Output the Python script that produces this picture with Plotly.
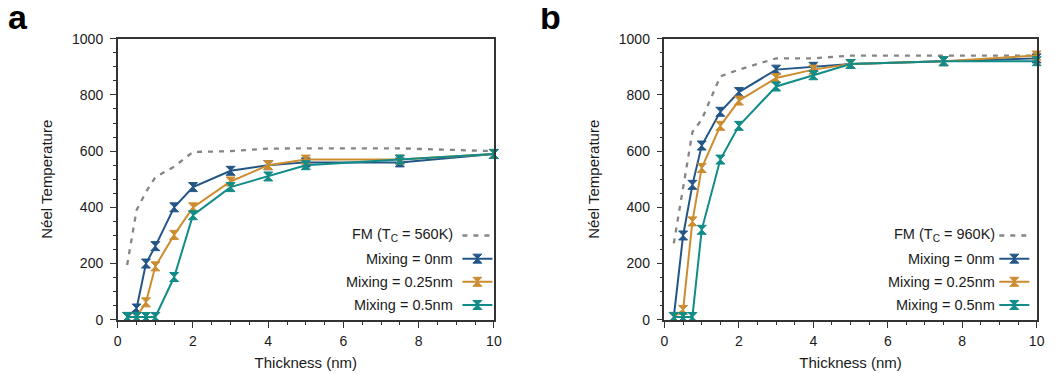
import plotly.graph_objects as go

thickness = [0.25, 0.5, 0.75, 1, 1.5, 2, 3, 4, 5, 7.5, 10]

# Panel a
a_fm = [195, 390, 455, 507, 545, 597, 600, 609, 610, 610, 600]
a_mix0 = [10, 40, 200, 262, 400, 472, 530, 550, 560, 560, 590]
a_mix025 = [10, 10, 62, 190, 302, 400, 492, 550, 570, 570, 590]
a_mix05 = [10, 10, 10, 10, 152, 372, 472, 510, 550, 570, 590]

# Panel b
b_fm = [272, 470, 668, 712, 866, 890, 930, 930, 940, 940, 940]
b_mix0 = [10, 300, 480, 620, 740, 810, 890, 900, 910, 920, 930]
b_mix025 = [10, 35, 350, 540, 690, 780, 860, 890, 910, 920, 940]
b_mix05 = [10, 10, 10, 320, 570, 690, 830, 870, 910, 920, 920]

fm_labels = ["FM (T<sub>C</sub> = 560K)", "FM (T<sub>C</sub> = 960K)"]
mix_labels = ["Mixing = 0nm", "Mixing = 0.25nm", "Mixing = 0.5nm"]
x_ticks = [0, 2, 4, 6, 8, 10]
y_ticks = [0, 200, 400, 600, 800, 1000]

colors = ["#235687", "#cc8d30", "#118c88"]
fm_color = "#858585"
FONT = "Liberation Sans, Arial, sans-serif"
TXT = "#1a1a1a"
W, H = 1064, 374

# empirical mapping from photographed pixel -> figure pixel
SX, OX = 0.991, 10.0
SY, OY = 0.957, 15.3


def px(x):
    return ((x - OX) / SX) / W


def py(y):
    return 1 - ((y - OY) / SY) / H


fig = go.Figure()

panels = [
    (a_fm, [a_mix0, a_mix025, a_mix05], "x", "y", "legend"),
    (b_fm, [b_mix0, b_mix025, b_mix05], "x2", "y2", "legend2"),
]

for fm, mixes, xa, ya, lg in panels:
    fig.add_trace(go.Scatter(
        x=thickness, y=fm, mode="lines", name="",
        line=dict(color=fm_color, width=2.3, dash="5px,6px"),
        xaxis=xa, yaxis=ya, legend=lg, cliponaxis=False,
    ))
    for vals, c in zip(mixes, colors):
        fig.add_trace(go.Scatter(
            x=thickness, y=vals, mode="lines+markers", name="",
            line=dict(color=c, width=2),
            marker=dict(symbol="hourglass", size=9, color=c,
                        line=dict(color=c, width=1)),
            xaxis=xa, yaxis=ya, legend=lg, cliponaxis=False,
        ))

dom_a = [px(116), px(493)]
dom_b = [px(664), px(1037)]
dom_y = [py(319), py(38)]

axis_common = dict(
    showline=True, linecolor="#333333", linewidth=1.5, mirror=True,
    ticks="outside", ticklen=6, tickwidth=1.2, tickcolor="#333333",
    showgrid=False, zeroline=False,
    tickfont=dict(family=FONT, size=14, color=TXT),
)

xaxis_cfg = dict(axis_common, range=[0, 10], tickvals=x_ticks,
                 ticklabelstandoff=2,
                 minor=dict(ticks="outside", ticklen=3, dtick=0.5, tickcolor="#333333"),
                 title=dict(text="Thickness (nm)", font=dict(family=FONT, size=15, color=TXT), standoff=9))
yaxis_cfg = dict(axis_common, range=[0, 1000], tickvals=y_ticks,
                 ticklabelstandoff=4,
                 minor=dict(ticks="outside", ticklen=3, dtick=50, tickcolor="#333333"),
                 title=dict(text="Néel Temperature", font=dict(family=FONT, size=15, color=TXT), standoff=16))

legend_common = dict(
    bgcolor="rgba(0,0,0,0)", borderwidth=0, font=dict(family=FONT, size=15.5),
    itemwidth=30, xanchor="right", yanchor="top", tracegroupgap=0,
)

annotations = [
    dict(text="<b>a</b>", x=-6 / W, y=1 + 21 / H, xref="paper", yref="paper",
         xanchor="left", yanchor="top", showarrow=False,
         font=dict(family=FONT, size=34, color="black")),
    dict(text="<b>b</b>", x=532 / W, y=1 + 21 / H, xref="paper", yref="paper",
         xanchor="left", yanchor="top", showarrow=False,
         font=dict(family=FONT, size=34, color="black")),
]
row_y = [234, 258, 281, 304]
for right_px, fm_lab in [(454, fm_labels[0]), (997, fm_labels[1])]:
    for ry, lab in zip(row_y, [fm_lab] + mix_labels):
        annotations.append(dict(
            text=lab, x=px(right_px), y=py(ry), xref="paper", yref="paper",
            xanchor="right", yanchor="middle", showarrow=False,
            font=dict(family=FONT, size=14.5, color=TXT)))

fig.update_layout(
    width=W, height=H, margin=dict(l=0, r=0, t=0, b=0),
    paper_bgcolor="white", plot_bgcolor="white",
    xaxis=dict(xaxis_cfg, domain=dom_a, anchor="y"),
    yaxis=dict(yaxis_cfg, domain=dom_y, anchor="x"),
    xaxis2=dict(xaxis_cfg, domain=dom_b, anchor="y2"),
    yaxis2=dict(yaxis_cfg, domain=dom_y, anchor="x2"),
    legend=dict(legend_common, x=496 / W, y=1 - 212 / H),
    legend2=dict(legend_common, x=1039 / W, y=1 - 212 / H),
    annotations=annotations,
    showlegend=True,
)

fig.write_html("out.html", config={"displayModeBar": False})
